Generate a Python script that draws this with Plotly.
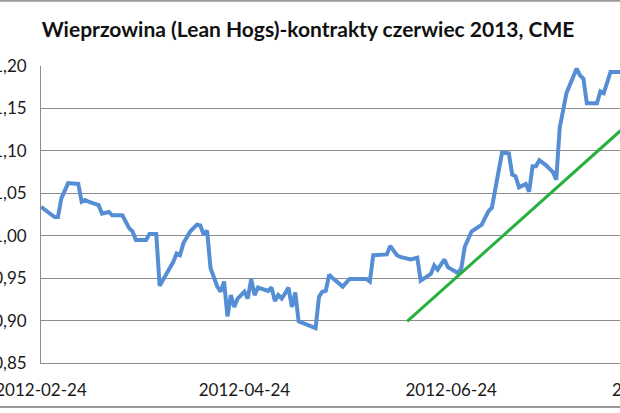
import plotly.graph_objects as go
from datetime import date

# ---- data ----
hog_dates = [
    "2012-02-24", "2012-02-28", "2012-02-29", "2012-03-01", "2012-03-03", "2012-03-06",
    "2012-03-07", "2012-03-08", "2012-03-09", "2012-03-12", "2012-03-13", "2012-03-15",
    "2012-03-16", "2012-03-19", "2012-03-21", "2012-03-22", "2012-03-23", "2012-03-26",
    "2012-03-27", "2012-03-29", "2012-03-30", "2012-04-03", "2012-04-04", "2012-04-05",
    "2012-04-06", "2012-04-07", "2012-04-08", "2012-04-10", "2012-04-11", "2012-04-12",
    "2012-04-13", "2012-04-14", "2012-04-15", "2012-04-16", "2012-04-17", "2012-04-18",
    "2012-04-19", "2012-04-20", "2012-04-21", "2012-04-22", "2012-04-24", "2012-04-25",
    "2012-04-26", "2012-04-27", "2012-04-28", "2012-05-01", "2012-05-02", "2012-05-03",
    "2012-05-04", "2012-05-05", "2012-05-06", "2012-05-07", "2012-05-08", "2012-05-09",
    "2012-05-10", "2012-05-14", "2012-05-15", "2012-05-16", "2012-05-17", "2012-05-18",
    "2012-05-19", "2012-05-20", "2012-05-23", "2012-05-25", "2012-05-30", "2012-05-31",
    "2012-06-01", "2012-06-05", "2012-06-06", "2012-06-08", "2012-06-09", "2012-06-12",
    "2012-06-14", "2012-06-15", "2012-06-18", "2012-06-19", "2012-06-20", "2012-06-22",
    "2012-06-23", "2012-06-26", "2012-06-27", "2012-06-28", "2012-06-30", "2012-07-03",
    "2012-07-04", "2012-07-05", "2012-07-06", "2012-07-09", "2012-07-11", "2012-07-12",
    "2012-07-13", "2012-07-14", "2012-07-16", "2012-07-17", "2012-07-18", "2012-07-19",
    "2012-07-20", "2012-07-22", "2012-07-24", "2012-07-25", "2012-07-26", "2012-07-27",
    "2012-07-28", "2012-07-31", "2012-08-01", "2012-08-02", "2012-08-03", "2012-08-06",
    "2012-08-07", "2012-08-08", "2012-08-10", "2012-08-13",
]
hog_prices = [
    1.034, 1.022, 1.022, 1.044, 1.062, 1.061,
    1.040, 1.042, 1.040, 1.036, 1.026, 1.028,
    1.024, 1.024, 1.009, 1.005, 0.995, 0.995,
    1.002, 1.002, 0.941, 0.969, 0.979, 0.977,
    0.991, 0.997, 1.005, 1.013, 1.012, 1.001,
    1.006, 0.962, 0.952, 0.940, 0.934, 0.946,
    0.905, 0.930, 0.916, 0.926, 0.934, 0.926,
    0.949, 0.930, 0.939, 0.935, 0.939, 0.923,
    0.930, 0.926, 0.932, 0.939, 0.916, 0.933,
    0.899, 0.892, 0.891, 0.928, 0.934, 0.935,
    0.954, 0.950, 0.940, 0.949, 0.949, 0.946,
    0.977, 0.978, 0.988, 0.977, 0.975, 0.972,
    0.974, 0.947, 0.955, 0.965, 0.960, 0.972,
    0.963, 0.956, 0.962, 0.987, 1.005, 1.013,
    1.022, 1.029, 1.033, 1.098, 1.097, 1.072,
    1.070, 1.057, 1.061, 1.052, 1.082, 1.082,
    1.089, 1.083, 1.075, 1.066, 1.127, 1.148,
    1.168, 1.197, 1.189, 1.185, 1.156, 1.156,
    1.170, 1.168, 1.193, 1.193,
]

trend_dates = ["2012-06-11", "2012-08-13"]
trend_values = [0.899, 1.124]

x_tick_labels = ["2012-02-24", "2012-04-24", "2012-06-24", "2012-08-24"]
y_tick_values = [0.85, 0.90, 0.95, 1.00, 1.05, 1.10, 1.15, 1.20]

title_text = "Wieprzowina (Lean Hogs)-kontrakty czerwiec 2013, CME"

# ---- figure ----
W, H = 620, 413
ML, MR, MT, MB = 41, 0, 66, 50
x_start = "2012-02-24"
x_end = "2012-08-12 19:00"

fig = go.Figure()
fig.add_trace(go.Scatter(
    x=hog_dates, y=hog_prices, mode="lines",
    line=dict(color="#558ED5", width=4), showlegend=False, hoverinfo="skip",
))
fig.add_trace(go.Scatter(
    x=trend_dates, y=trend_values, mode="lines",
    line=dict(color="#27B03E", width=3), showlegend=False, hoverinfo="skip",
))

font_family = "Lato, 'Open Sans', sans-serif"
grid_col = "#8C8C8C"
tick_size = 17

plot_w = W - ML - MR
plot_h = H - MT - MB

fig.update_layout(
    width=W, height=H,
    margin=dict(l=ML, r=MR, t=MT, b=MB, pad=0),
    paper_bgcolor="white", plot_bgcolor="white",
    separators=",.",
    font=dict(family=font_family, size=tick_size, color="#1A1A1A"),
    title=dict(
        text="<b>" + title_text + "</b>",
        xref="container", yref="container",
        x=308 / W, y=1 - 30 / H, xanchor="center", yanchor="middle",
        font=dict(family=font_family, size=21, color="#111111"),
    ),
    xaxis=dict(
        type="date", range=[x_start, x_end],
        tick0=x_tick_labels[0], dtick="M2", tickformat="%Y-%m-%d",
        showgrid=False, zeroline=False,
        showline=True, linecolor=grid_col, linewidth=1,
        ticks="", ticklabelstandoff=12, automargin=False,
        ticklabeloverflow="allow",
        tickfont=dict(family=font_family, size=tick_size, color="#1A1A1A"),
    ),
    yaxis=dict(
        range=[0.85, 1.20], tickmode="array", tickvals=y_tick_values, tickformat=".2f",
        showgrid=True, gridcolor=grid_col, gridwidth=1,
        zeroline=False,
        showline=True, linecolor=grid_col, linewidth=1,
        ticks="outside", ticklen=10, tickcolor="rgba(255,255,255,0)",
        automargin=False, ticklabeloverflow="allow",
        tickfont=dict(family=font_family, size=tick_size, color="#1A1A1A"),
    ),
)

# last date label that falls past the right edge of the (cropped) picture
d0 = date.fromisoformat(x_start)
span_days = 170 + 19 / 24
last_days = (date.fromisoformat(x_tick_labels[-1]) - d0).days
fig.add_annotation(
    xref="paper", yref="paper",
    x=last_days / span_days, y=0, yshift=-26,
    text=x_tick_labels[-1], showarrow=False,
    xanchor="center", yanchor="middle",
    font=dict(family=font_family, size=tick_size, color="#1A1A1A"),
)

# outer chart border (only its top and bottom edges are inside the crop)
fig.add_shape(
    type="rect", xref="paper", yref="paper", layer="above",
    x0=-(ML + 10) / plot_w, x1=1 + 10 / plot_w,
    y0=(H - MB - 407) / plot_h, y1=(H - MB - 0.8) / plot_h,
    line=dict(color="#9A9A9A", width=2), fillcolor="rgba(0,0,0,0)",
)

fig.write_html(
    "out.html",
    config={"displayModeBar": False},
    post_script="document.body.style.margin='0';",
)
